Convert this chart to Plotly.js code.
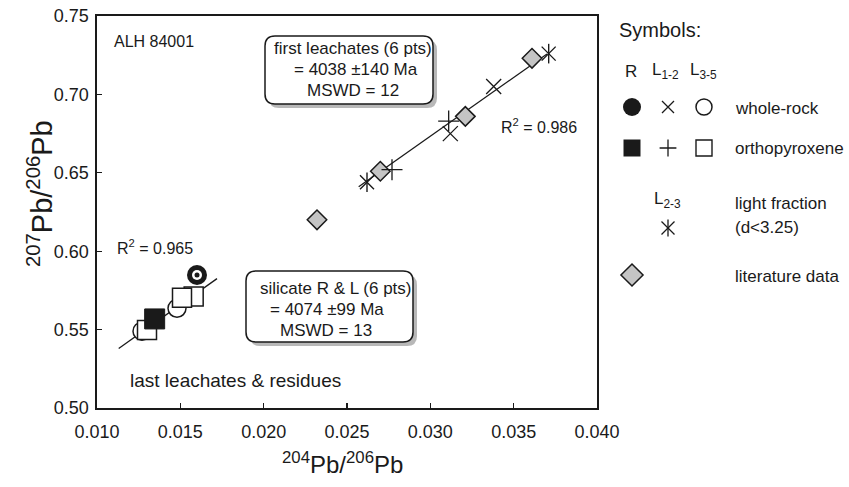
<!DOCTYPE html>
<html><head><meta charset="utf-8">
<script src="https://cdn.plot.ly/plotly-3.0.1.min.js"></script>
<style>html,body{margin:0;padding:0;background:#fff}#chart{width:849px;height:487px}</style>
</head><body><div id="chart"></div>
<script>
// ---- data ----
const litX = [0.0232, 0.0270, 0.0321, 0.0361];
const litY = [0.620, 0.651, 0.686, 0.723];
const wrL12X = [0.0312, 0.0338];
const wrL12Y = [0.675, 0.705];
const opxL12X = [0.0277, 0.0311];
const opxL12Y = [0.652, 0.683];
const lightX = [0.0262, 0.0371];
const lightY = [0.644, 0.726];
const wrRX = [0.0160];
const wrRY = [0.5848];
const wrL35X = [0.0127, 0.0148];
const wrL35Y = [0.549, 0.5636];
const opxRX = [0.01346];
const opxRY = [0.5568];
const opxL35X = [0.0158, 0.0151, 0.0130];
const opxL35Y = [0.5711, 0.5703, 0.5497];
const fitFirstX = [0.0257, 0.0370];
const fitFirstY = [0.6411, 0.7258];
const fitSilX = [0.0113, 0.0172];
const fitSilY = [0.538, 0.5825];
const xTicks = [0.010, 0.015, 0.020, 0.025, 0.030, 0.035, 0.040];
const yTicks = [0.50, 0.55, 0.60, 0.65, 0.70, 0.75];

// ---- layout helpers (pixel -> axis units) ----
const W = 849, H = 487, L = 97, T = 16, B = 79;
const X0 = 0.010, X1 = 0.040, Y0 = 0.50, Y1 = 0.75;
const plotW = 500, plotH = H - T - B;
const X = px => X0 + (px - L) * (X1 - X0) / plotW;
const Y = py => Y0 + (T + plotH - py) * (Y1 - Y0) / plotH;
const PX = px => (px - L) / (W - L);
const PY = py => (T + plotH - py) / plotH;
function rrect(x0, y0, x1, y1, r) {
  const p = (a, b) => X(a) + ',' + Y(b);
  return 'M' + p(x0 + r, y0) + ' L' + p(x1 - r, y0) + ' Q' + p(x1, y0) + ' ' + p(x1, y0 + r) +
    ' L' + p(x1, y1 - r) + ' Q' + p(x1, y1) + ' ' + p(x1 - r, y1) +
    ' L' + p(x0 + r, y1) + ' Q' + p(x0, y1) + ' ' + p(x0, y1 - r) +
    ' L' + p(x0, y0 + r) + ' Q' + p(x0, y0) + ' ' + p(x0 + r, y0) + ' Z';
}
const FONT = 'Liberation Sans, Arial, Helvetica, sans-serif';
const INK = '#1a1a1a';

const mk = (x, y, symbol, size, color, lw, extra) => Object.assign({
  type: 'scatter', mode: 'markers', x: x, y: y, hoverinfo: 'skip', showlegend: false,
  marker: {symbol: symbol, size: size, color: color, line: {color: INK, width: lw}}
}, extra || {});
const ln = (x, y) => ({type: 'scatter', mode: 'lines', x: x, y: y, hoverinfo: 'skip', showlegend: false,
  line: {color: INK, width: 1.3}});

const traces = [
  ln(fitFirstX, fitFirstY),
  ln(fitSilX, fitSilY),
  mk(litX, litY, 'diamond', 15, '#c4c4c4', 1.5),
  mk(lightX, lightY, 'x-thin-open', 14, INK, 1.4),
  mk(lightX, lightY, 'line-ns-open', 14, INK, 1.4),
  mk(wrL12X, wrL12Y, 'x-thin-open', 15, INK, 1.3),
  mk(opxL12X, opxL12Y, 'cross-thin-open', 15, INK, 1.3),
  mk(wrL35X, wrL35Y, 'circle', 18, '#ffffff', 1.5),
  mk(opxL35X, opxL35Y, 'square', 19, '#ffffff', 1.5),
  mk(opxRX, opxRY, 'square', 20, INK, 1),
  mk(wrRX, wrRY, 'circle', 20, INK, 0),
  mk(wrRX, wrRY, 'circle', 10, '#ffffff', 0),
  mk(wrRX, wrRY, 'circle', 5, INK, 0)
];

// ---- symbol key (right side) ----
const keyX2 = {xaxis: 'x2', yaxis: 'y2'};
const keyCols = [632, 668, 704];
const keyRows = [107, 148, 228, 275];
traces.push(
  mk([keyCols[0]], [keyRows[0]], 'circle', 18, INK, 0, keyX2),
  mk([keyCols[1]], [keyRows[0]], 'x-thin-open', 12, INK, 1.3, keyX2),
  mk([keyCols[2]], [keyRows[0]], 'circle-open', 16, INK, 1.5, keyX2),
  mk([keyCols[0]], [keyRows[1]], 'square', 17, INK, 0, keyX2),
  mk([keyCols[1]], [keyRows[1]], 'cross-thin-open', 12, INK, 1.3, keyX2),
  mk([keyCols[2]], [keyRows[1]], 'square-open', 16, INK, 1.4, keyX2),
  mk([keyCols[1]], [keyRows[2]], 'x-thin-open', 13, INK, 1.3, keyX2),
  mk([keyCols[1]], [keyRows[2]], 'line-ns-open', 12, INK, 1.3, keyX2),
  mk([keyCols[0]], [keyRows[3]], 'diamond', 17, '#c4c4c4', 1.5, keyX2)
);

const ann = [];
const tdata = (text, px, py, xanchor, size) => ann.push({text: text, x: X(px), y: Y(py), xref: 'x', yref: 'y',
  xanchor: xanchor, yanchor: 'middle', showarrow: false, font: {family: FONT, size: size || 17, color: INK}});
const tkey = (text, px, py, xanchor, size) => ann.push({text: text, x: px, y: py, xref: 'x2', yref: 'y2',
  xanchor: xanchor, yanchor: 'middle', showarrow: false, font: {family: FONT, size: size || 17, color: INK}});

tdata('ALH 84001', 112, 41, 'left', 16);
tdata('first leachates (6 pts)', 352.5, 48, 'center');
tdata('= 4038 ±140 Ma', 355.5, 69, 'center');
tdata('MSWD = 12', 353, 90, 'center');
tdata('silicate R &amp; L (6 pts)', 335, 288, 'center');
tdata('= 4074 ±99 Ma', 327, 309, 'center');
tdata('MSWD = 13', 326, 330, 'center');
tdata('R<sup>2</sup> = 0.986', 499, 126, 'left', 16);
tdata('R<sup>2</sup> = 0.965', 115, 247, 'left', 16);
tdata('last leachates &amp; residues', 128, 380, 'left', 19);

tkey('Symbols:', 617, 30, 'left', 20);
tkey('R', 631, 71, 'center');
tkey('L<sub>1-2</sub>', 665, 71, 'center');
tkey('L<sub>3-5</sub>', 703, 71, 'center');
tkey('whole-rock', 733, 108, 'left');
tkey('orthopyroxene', 733, 148, 'left');
tkey('L<sub>2-3</sub>', 667, 200, 'center');
tkey('light fraction', 733, 203, 'left');
tkey('(d&lt;3.25)', 733, 227, 'left');
tkey('literature data', 733, 276, 'left');

// axis titles
ann.push({text: '<sup>204</sup>Pb/<sup>206</sup>Pb', x: PX(342), y: PY(463), xref: 'paper', yref: 'paper',
  xanchor: 'center', yanchor: 'middle', showarrow: false, font: {family: FONT, size: 24, color: INK}});
ann.push({text: '<sup>207</sup>Pb/<sup>206</sup>Pb', x: PX(40), y: PY(193), xref: 'paper', yref: 'paper',
  xanchor: 'center', yanchor: 'middle', textangle: -90, showarrow: false, font: {family: FONT, size: 29, color: INK}});

const shapes = [
  {type: 'path', xref: 'x', yref: 'y', path: rrect(269, 40, 437, 108, 10), fillcolor: '#b8b8b8', line: {width: 0}},
  {type: 'path', xref: 'x', yref: 'y', path: rrect(265, 36, 433, 104, 10), fillcolor: '#ffffff', line: {color: INK, width: 1.5}},
  {type: 'path', xref: 'x', yref: 'y', path: rrect(250, 275, 417, 346, 10), fillcolor: '#b8b8b8', line: {width: 0}},
  {type: 'path', xref: 'x', yref: 'y', path: rrect(246, 271, 413, 342, 10), fillcolor: '#ffffff', line: {color: INK, width: 1.5}}
];

const axCommon = {showline: true, mirror: true, linecolor: INK, linewidth: 1.6, ticks: 'inside', ticklen: 5,
  tickwidth: 1.3, tickcolor: INK, showgrid: false, zeroline: false, fixedrange: true,
  tickfont: {family: FONT, size: 18, color: INK}};

const layout = {
  width: W, height: H, margin: {l: L, r: 0, t: T, b: B, pad: 0},
  paper_bgcolor: '#ffffff', plot_bgcolor: 'rgba(0,0,0,0)', showlegend: false,
  xaxis: Object.assign({}, axCommon, {range: [X0, X1], domain: [0, plotW / (W - L)], tickvals: xTicks, tickformat: '.3f', anchor: 'y', ticklabelstandoff: 7}),
  yaxis: Object.assign({}, axCommon, {range: [Y0, Y1], domain: [0, 1], tickvals: yTicks, tickformat: '.2f', anchor: 'x', ticklabelstandoff: 3}),
  xaxis2: {domain: [(600 - L) / (W - L), 1], range: [600, W], visible: false, fixedrange: true, anchor: 'y2'},
  yaxis2: {domain: [0, 1], range: [T + plotH, T], visible: false, fixedrange: true, anchor: 'x2'},
  shapes: shapes, annotations: ann
};
Plotly.newPlot('chart', traces, layout, {staticPlot: true, displayModeBar: false});
</script></body></html>
